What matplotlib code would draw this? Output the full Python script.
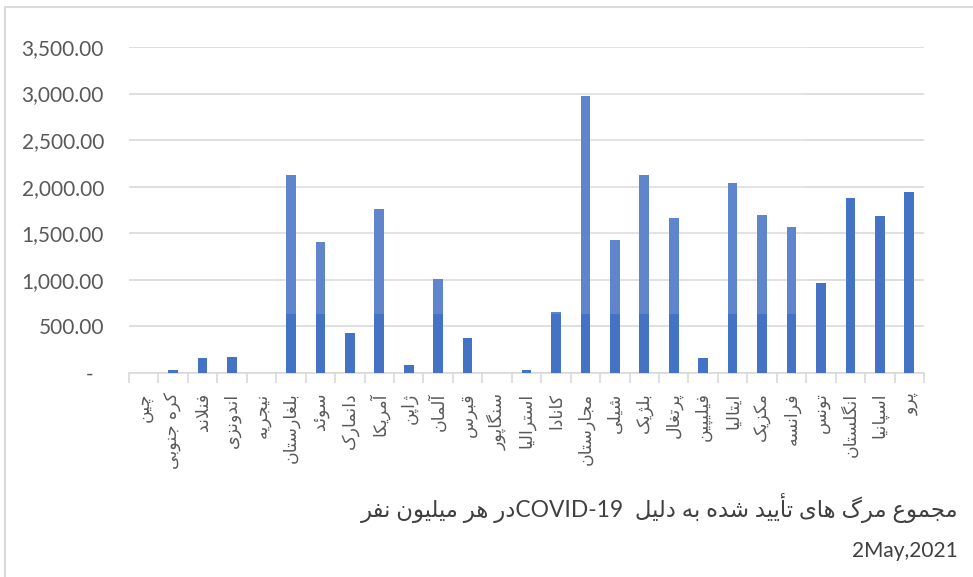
import numpy as np
import matplotlib
matplotlib.use("Agg")
import matplotlib.pyplot as plt
from matplotlib.patches import Rectangle
from matplotlib.ticker import FuncFormatter


countries = ['چین', 'کره جنوبی', 'فنلاند', 'اندونزی', 'نیجریه', 'بلغارستان', 'سوئد',
             'دانمارک', 'آمریکا', 'ژاپن', 'آلمان', 'قبرس', 'سنگاپور', 'استرالیا',
             'کانادا', 'مجارستان', 'شیلی', 'بلژیک', 'پرتغال', 'فیلیپین', 'ایتالیا',
             'مکزیک', 'فرانسه', 'تونس', 'انگلستان', 'اسپانیا', 'پرو']
deaths_per_million = [3, 35, 164, 168, 5, 2125, 1405, 430, 1758, 83, 1013, 379, 5, 35,
                      652, 2975, 1428, 2123, 1665, 165, 2037, 1700, 1568, 967, 1883, 1686, 1944]
title_fa_1 = 'مجموع مرگ های تأیید شده به دلیل'
title_latin = 'COVID-19'
title_fa_2 = 'در هر میلیون نفر'
date_label = '2May,2021'

# arabic presentation forms: isolated, final, initial, medial
FORMS = {
    'ا': ('\uFE8D', '\uFE8E', None, None), 'آ': ('\uFE81', '\uFE82', None, None),
    'أ': ('\uFE83', '\uFE84', None, None), 'د': ('\uFEA9', '\uFEAA', None, None),
    'ذ': ('\uFEAB', '\uFEAC', None, None), 'ر': ('\uFEAD', '\uFEAE', None, None),
    'ز': ('\uFEAF', '\uFEB0', None, None), 'ژ': ('\uFB8A', '\uFB8B', None, None),
    'و': ('\uFEED', '\uFEEE', None, None), 'ؤ': ('\uFE85', '\uFE86', None, None),
    'ب': ('\uFE8F', '\uFE90', '\uFE91', '\uFE92'), 'پ': ('\uFB56', '\uFB57', '\uFB58', '\uFB59'),
    'ت': ('\uFE95', '\uFE96', '\uFE97', '\uFE98'), 'ث': ('\uFE99', '\uFE9A', '\uFE9B', '\uFE9C'),
    'ج': ('\uFE9D', '\uFE9E', '\uFE9F', '\uFEA0'), 'چ': ('\uFB7A', '\uFB7B', '\uFB7C', '\uFB7D'),
    'ح': ('\uFEA1', '\uFEA2', '\uFEA3', '\uFEA4'), 'خ': ('\uFEA5', '\uFEA6', '\uFEA7', '\uFEA8'),
    'س': ('\uFEB1', '\uFEB2', '\uFEB3', '\uFEB4'), 'ش': ('\uFEB5', '\uFEB6', '\uFEB7', '\uFEB8'),
    'ص': ('\uFEB9', '\uFEBA', '\uFEBB', '\uFEBC'), 'ض': ('\uFEBD', '\uFEBE', '\uFEBF', '\uFEC0'),
    'ط': ('\uFEC1', '\uFEC2', '\uFEC3', '\uFEC4'), 'ظ': ('\uFEC5', '\uFEC6', '\uFEC7', '\uFEC8'),
    'ع': ('\uFEC9', '\uFECA', '\uFECB', '\uFECC'), 'غ': ('\uFECD', '\uFECE', '\uFECF', '\uFED0'),
    'ف': ('\uFED1', '\uFED2', '\uFED3', '\uFED4'), 'ق': ('\uFED5', '\uFED6', '\uFED7', '\uFED8'),
    'ک': ('\uFB8E', '\uFB8F', '\uFB90', '\uFB91'), 'گ': ('\uFB92', '\uFB93', '\uFB94', '\uFB95'),
    'ل': ('\uFEDD', '\uFEDE', '\uFEDF', '\uFEE0'), 'م': ('\uFEE1', '\uFEE2', '\uFEE3', '\uFEE4'),
    'ن': ('\uFEE5', '\uFEE6', '\uFEE7', '\uFEE8'), 'ه': ('\uFEE9', '\uFEEA', '\uFEEB', '\uFEEC'),
    'ی': ('\uFBFC', '\uFBFD', '\uFBFE', '\uFBFF'), 'ي': ('\uFEF1', '\uFEF2', '\uFEF3', '\uFEF4'),
    'ئ': ('\uFE89', '\uFE8A', '\uFE8B', '\uFE8C'),
}
LAM_ALEF = {'ا': ('\uFEFB', '\uFEFC'), 'آ': ('\uFEF5', '\uFEF6'), 'أ': ('\uFEF7', '\uFEF8')}


def dual(c):
    return c in FORMS and FORMS[c][2] is not None


def rtl(text):
    # shape in logical order, then flip to visual order
    out = []
    i = 0
    n = len(text)
    while i < n:
        c = text[i]
        prev = text[i - 1] if i > 0 else ''
        nxt = text[i + 1] if i + 1 < n else ''
        if c not in FORMS:
            out.append(c)
            i += 1
            continue
        join_prev = dual(prev)
        if c == 'ل' and nxt in LAM_ALEF:
            out.append(LAM_ALEF[nxt][1 if join_prev else 0])
            i += 2
            continue
        join_next = dual(c) and nxt in FORMS
        iso, fin, ini, med = FORMS[c]
        if join_prev and join_next:
            out.append(med)
        elif join_prev:
            out.append(fin)
        elif join_next:
            out.append(ini)
        else:
            out.append(iso)
        i += 1
    return ''.join(out)[::-1]


bar_color = '#4472C4'
grid_color = '#D9D9D9'
text_color = '#595959'
fonts = ['Lato', 'DejaVu Sans']

fig = plt.figure(figsize=(9.73, 5.77), dpi=100)
ax = fig.add_axes([129 / 973, 1 - 373 / 577, (924 - 129) / 973, (373 - 47) / 577])

x = np.arange(len(countries))
ax.bar(x, deaths_per_million, width=0.33, color=bar_color, zorder=3)

ax.set_xlim(-0.5, len(countries) - 0.5)
ax.set_ylim(0, 3500)
ax.set_yticks(np.arange(0, 3501, 500))
ax.yaxis.set_major_formatter(FuncFormatter(lambda v, p: '-  ' if v == 0 else f'{v:,.2f}'))
ax.grid(axis='y', color=grid_color, linewidth=1.2, zorder=0)
for s in ['top', 'right', 'left']:
    ax.spines[s].set_visible(False)
ax.spines['bottom'].set_color(grid_color)
ax.spines['bottom'].set_linewidth(1.2)

ax.tick_params(axis='y', length=0, pad=18, labelsize=15, labelcolor=text_color)
for lab in ax.get_yticklabels():
    lab.set_family(fonts)

ax.set_xticks(x)
ax.set_xticklabels([rtl(c) for c in countries], rotation=90, va='top', ha='center',
                   fontsize=12.5, color=text_color, family=['DejaVu Sans'])
ax.tick_params(axis='x', which='major', length=0, pad=14)
ax.set_xticks(np.arange(-0.5, len(countries)), minor=True)
ax.tick_params(axis='x', which='minor', length=7, width=1.2, color=grid_color)

# faded band from the scanned page
fig.patches.append(Rectangle((240 / 973, 1 - 314 / 577), (805 - 240) / 973, 314 / 577,
                             transform=fig.transFigure, facecolor='white', alpha=0.15,
                             edgecolor='none', zorder=10))
# chart frame
fig.patches.append(Rectangle((5 / 973, -0.2), 1.2, 1.2 - 7 / 577, transform=fig.transFigure,
                             fill=False, edgecolor=grid_color, linewidth=1.5, zorder=11))

line1 = rtl(title_fa_2) + title_latin + '  ' + rtl(title_fa_1)
fig.text(958 / 973, 1 - 508 / 577, line1, ha='right', va='center', fontsize=16.4,
         color='#404040', family=fonts)
fig.text(958 / 973, 1 - 551 / 577, date_label, ha='right', va='center', fontsize=15,
         color='#404040', family=fonts)

fig.savefig('out.png', dpi=100)
